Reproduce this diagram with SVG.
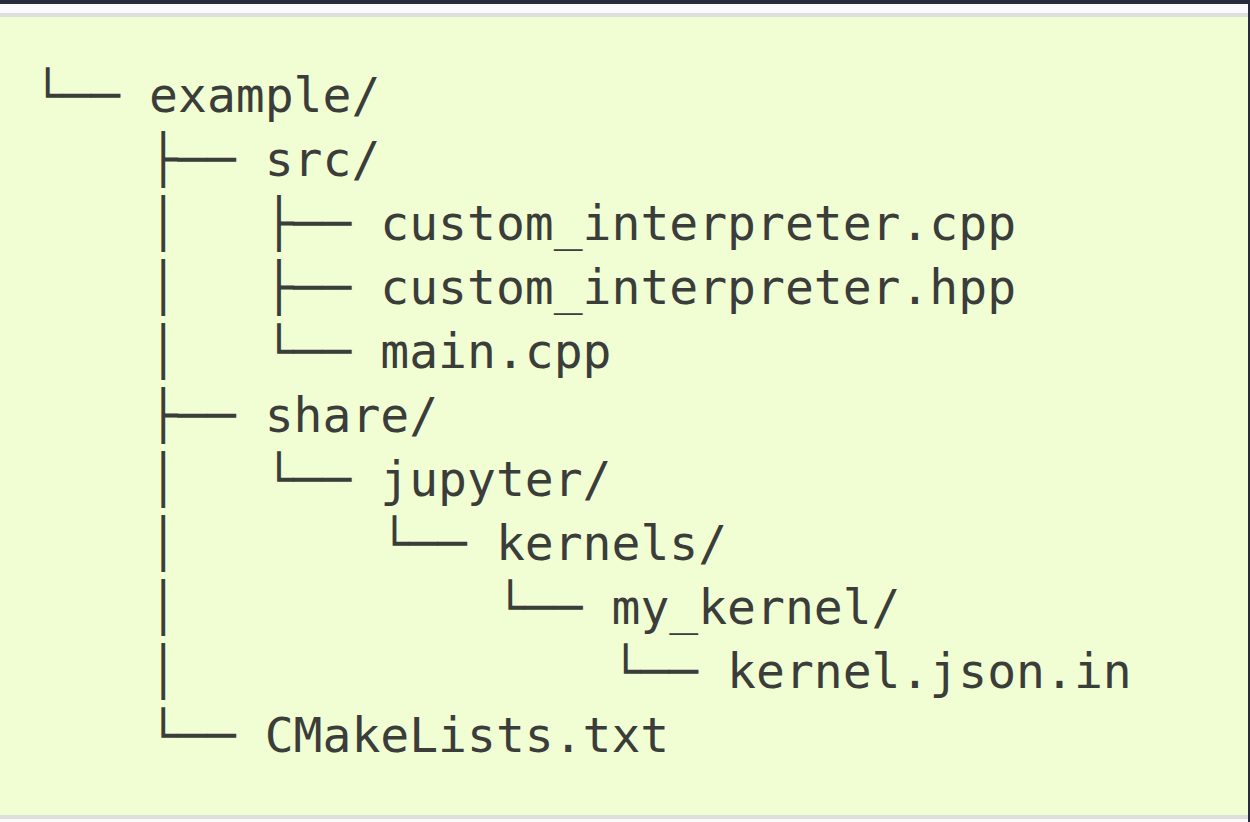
<svg xmlns="http://www.w3.org/2000/svg" width="1250" height="822" viewBox="0 0 1250 822">
<style>
.t{font-family:"DejaVu Sans Mono","Liberation Mono",monospace;font-size:48px;fill:#3a3d3a}
</style>
<rect x="0" y="0" width="1250" height="822" fill="#fafafc"/>
<rect x="0" y="0" width="1250" height="4" fill="#282b3c"/>
<rect x="0" y="13" width="1250" height="4" fill="#dcdfdc"/>
<rect x="0" y="17" width="1250" height="798" fill="#f1fdd2"/>
<rect x="0" y="815" width="1250" height="4" fill="#dedfdc"/>
<rect x="1248" y="0" width="2" height="822" fill="#282b3c"/>
<g id="connectors" class="t">
<text x="33.5" y="112">└──</text>
<text x="149.1" y="176">├──</text>
<text x="149.1" y="240">│</text><text x="264.7" y="240">├──</text>
<text x="149.1" y="304">│</text><text x="264.7" y="304">├──</text>
<text x="149.1" y="368">│</text><text x="264.7" y="368">└──</text>
<text x="149.1" y="432">├──</text>
<text x="149.1" y="496">│</text><text x="264.7" y="496">└──</text>
<text x="149.1" y="560">│</text><text x="380.3" y="560">└──</text>
<text x="149.1" y="624">│</text><text x="495.9" y="624">└──</text>
<text x="149.1" y="688">│</text><text x="611.5" y="688">└──</text>
<text x="149.1" y="752">└──</text>
</g>
<g id="example" class="t"><text x="149.1" y="112">example/</text></g>
<g id="src" class="t"><text x="264.7" y="176">src/</text></g>
<g id="custom_interpreter_cpp" class="t"><text x="380.3" y="240">custom_interpreter.cpp</text></g>
<g id="custom_interpreter_hpp" class="t"><text x="380.3" y="304">custom_interpreter.hpp</text></g>
<g id="main_cpp" class="t"><text x="380.3" y="368">main.cpp</text></g>
<g id="share" class="t"><text x="264.7" y="432">share/</text></g>
<g id="jupyter" class="t"><text x="380.3" y="496">jupyter/</text></g>
<g id="kernels" class="t"><text x="495.9" y="560">kernels/</text></g>
<g id="my_kernel" class="t"><text x="611.5" y="624">my_kernel/</text></g>
<g id="kernel_json_in" class="t"><text x="727.1" y="688">kernel.json.in</text></g>
<g id="cmakelists" class="t"><text x="264.7" y="752">CMakeLists.txt</text></g>
</svg>
